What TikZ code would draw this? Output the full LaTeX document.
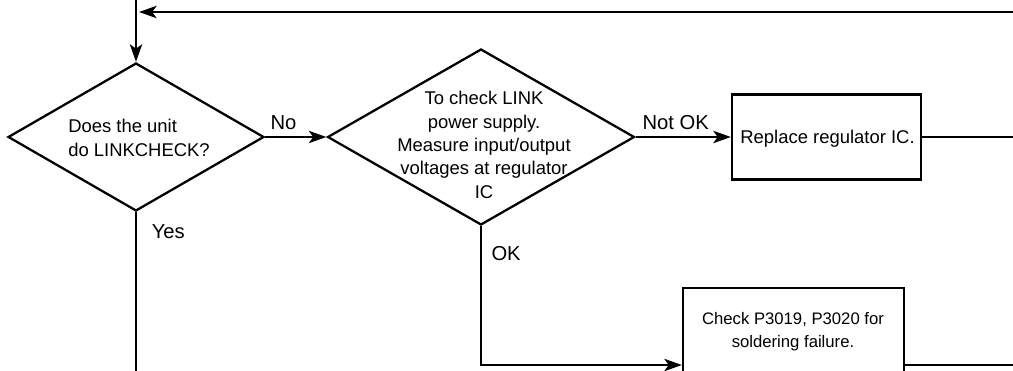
\documentclass[tikz,border=0pt]{standalone}
\usepackage{fontspec}
\setmainfont{Liberation Sans}
\usetikzlibrary{shapes.geometric, arrows.meta}

\begin{document}
\begin{tikzpicture}[x=0.02cm, y=-0.02cm,
  decision/.style={diamond, draw, line width=1.3pt, inner sep=0pt},
  process/.style={rectangle, draw, line width=1.3pt, inner sep=0pt},
  txt/.style={font=\fontsize{10.5}{13.3}\selectfont, inner sep=0pt},
  lbl/.style={font=\fontsize{11.5}{14}\selectfont},
  flow/.style={-{Stealth[length=10pt, width=7pt, inset=2.5pt]}, line width=1.3pt},
  link/.style={line width=1.3pt}
]
\useasboundingbox (0,0) rectangle (1013,371);
\clip (0,0) rectangle (1013,371);

% decisions
\node[decision, minimum width=5.12cm, minimum height=2.96cm] (unit) at (136,137) {};
\node[decision, minimum width=6.14cm, minimum height=3.52cm] (power) at (481,137) {};
\node[txt, align=left]   (unittext)  at (139,138) {Does the unit\\do LINKCHECK?};
\node[txt, align=center] (powertext) at (484,145) {To check LINK\\power supply.\\Measure input/output\\voltages at regulator\\IC};

% actions
\node[process, minimum width=3.78cm, minimum height=1.7cm] (regic) at (826.5,137) {};
\node[txt] (regictext) at (827.5,139) {Replace regulator IC.};
\node[process, minimum width=4.42cm, minimum height=3.08cm] (solder) at (793.5,365) {};
\node[txt, font=\fontsize{9.5}{13}\selectfont, align=center] (soldertext) at (793,332) {Check P3019, P3020 for\\soldering failure.};

% loose ends
\coordinate (entry)   at (136,0);
\coordinate (backin)  at (1013,12);
\coordinate (backout) at (139,12);
\coordinate (yesout)  at (136,371);
\coordinate (regout)  at (1013,137);
\coordinate (solout)  at (1013,365);

\draw[flow] (entry) -- (unit.north);
\draw[flow] (backin) -- (backout);
\draw[flow] (unit.east) -- node[lbl, above, pos=0.3] {No} (power.west);
\draw[flow] (power.east) -- node[lbl, above, pos=0.42] {Not OK} (regic.west);
\draw[flow] (power.south) |- node[lbl, right=2pt, pos=0.1] {OK} (solder.west);
\draw[link] (unit.south) -- node[lbl, right=5pt, pos=0.12] {Yes} (yesout);
\draw[link] (regic.east) -- (regout);
\draw[link] (solder.east) -- (solout);
\end{tikzpicture}
\end{document}
